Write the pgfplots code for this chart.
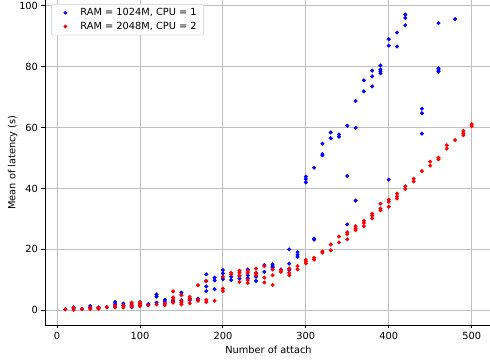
\documentclass[border=0pt]{standalone}
\usepackage{pgfplots}
\pgfplotsset{compat=1.18}
\usepackage{fontspec}
\setmainfont{DejaVu Sans}
\begin{document}
\begin{tikzpicture}
\begin{axis}[
  name=ax,
  scale only axis,
  width=447pt, height=325pt,
  xmin=-14.5, xmax=524.5, ymin=-4.85, ymax=101.9,
  axis lines*=left,
  axis line style={black, line width=0.8pt},
  xtick={0,100,...,500}, ytick={0,20,...,100},
  tick align=outside, major tick length=3.5pt,
  tick style={black, line width=0.8pt},
  grid=major,
  major grid style={gray!50, line width=0.8pt},
  /pgf/number format/assume math mode=true,
  tick label style={font=\fontsize{9.8}{12}\selectfont},
  label style={font=\fontsize{9.8}{12}\selectfont},
  xlabel={Number of attach},
  ylabel={Mean of latency (s)},
  ylabel shift=-5pt,
  legend cell align=left,
  legend style={at={(0,1)}, anchor=north west, xshift=6pt, yshift=-4pt,
    draw=gray!25, rounded corners=2pt, line width=0.8pt,
    font=\fontsize{9.8}{12}\selectfont, row sep=1pt,
    inner xsep=5pt, inner ysep=2pt},
  legend image code/.code={\path[draw=none,fill=none] (0pt,0pt) rectangle (22pt,0pt);
    \draw[#1, mark size=1.4pt] plot coordinates {(9pt,0pt)};},
]
\addplot[only marks, mark=*, mark size=1.8pt, color=blue] coordinates {
(10,0.3)(20,0.5)(20,0.9)(30,0.4)(40,1.4)(40,0.8)(50,0.9)(50,0.6)(60,1.0)
(70,2.7)(70,2.0)(70,1.2)(80,2.2)(80,1.5)(90,1.5)(90,1.0)(100,2.2)(100,1.6)
(110,2.0)(110,1.8)(120,5.2)(120,4.5)(120,2.5)(130,3.4)(130,2.7)(140,3.1)(140,2.8)
(150,5.8)(150,5.0)(150,3.3)(160,3.8)(160,3.3)(170,3.8)(170,3.3)
(180,11.8)(180,9.6)(180,7.8)(180,6.3)(190,10.7)(190,9.8)(190,6.9)
(200,13.2)(200,12.1)(200,11.0)(200,10.2)(210,11.0)(210,9.9)(220,11.3)(220,10.4)
(230,13.4)(230,11.5)(230,10.5)(240,12.1)(240,11.0)(240,9.6)(250,14.8)(250,12.6)
(260,15.1)(260,14.5)(260,14.0)(270,13.4)(280,20.0)(280,15.3)(280,13.2)
(290,19.1)(290,18.2)(290,17.5)(300,43.9)(300,43.1)(300,42.0)
(310,46.8)(310,23.5)(310,23.2)(320,54.7)(320,51.3)(320,50.9)(330,58.4)(330,56.5)
(340,57.7)(340,57.0)(350,60.6)(350,44.1)(350,28.2)(360,68.7)(360,59.9)(360,36.0)
(370,75.5)(370,71.9)(380,78.7)(380,76.8)(380,73.5)
(390,80.4)(390,79.1)(390,78.5)(390,77.8)(400,89.0)(400,86.9)(400,42.9)
(410,91.2)(410,86.6)(420,97.1)(420,96.0)(420,93.6)(440,66.2)(440,64.7)(440,58.0)
(460,94.3)(460,79.5)(460,78.9)(460,78.4)(480,95.6)
};
\addlegendentry{RAM = 1024M, CPU = 1}
\addplot[only marks, mark=*, mark size=1.8pt, color=red] coordinates {
(10,0.3)(20,0.9)(20,0.1)(30,0.4)(40,0.8)(40,0.4)(50,0.9)(50,0.5)(60,1.0)
(70,1.4)(70,0.9)(80,1.6)(80,0.9)(90,2.5)(90,2.0)(90,1.2)(100,2.7)(100,2.0)(100,1.4)
(110,1.6)(120,1.9)(130,2.2)(130,1.7)(140,6.2)(140,4.2)(140,3.6)(140,2.5)
(150,5.0)(150,3.1)(150,2.5)(150,1.9)(160,4.4)(160,3.6)(160,2.3)
(170,8.2)(170,3.4)(170,3.1)(180,9.6)(180,3.4)(180,2.7)(190,3.1)
(200,11.0)(200,7.1)(200,6.3)(210,12.3)(210,11.8)
(220,13.0)(220,12.3)(220,11.3)(220,9.3)(230,12.9)(230,12.3)(230,9.9)(230,8.9)
(240,13.7)(240,12.3)(240,11.5)(250,14.5)(250,10.7)(250,9.1)
(260,13.4)(260,11.5)(260,8.3)(270,13.2)(270,12.6)(280,13.7)(280,12.3)(280,11.5)
(290,14.5)(290,13.4)(300,16.5)(300,15.9)(300,15.4)(310,17.2)(310,16.6)
(320,19.3)(320,18.9)(330,21.6)(330,19.7)(340,24.2)(340,22.3)
(350,25.6)(350,25.0)(350,23.3)(360,27.6)(360,26.9)(360,26.3)
(370,29.4)(370,28.7)(370,27.6)(380,31.7)(380,31.1)(380,30.2)
(390,35.0)(390,33.4)(390,32.8)(400,36.3)(400,35.6)(400,34.0)
(410,38.3)(410,37.4)(410,36.7)(420,40.7)(420,39.8)(430,43.2)(430,42.3)
(440,45.7)(450,48.8)(450,47.5)(460,50.1)(460,49.6)(470,54.2)(470,53.1)
(480,55.9)(490,58.9)(490,58.1)(490,57.5)(500,61.1)(500,60.5)
};
\addlegendentry{RAM = 2048M, CPU = 2}
\end{axis}
\pgfresetboundingbox
\path[use as bounding box] ([xshift=-45pt,yshift=-39pt]ax.south west) rectangle ([xshift=-2pt]ax.north east);
\end{tikzpicture}
\end{document}
